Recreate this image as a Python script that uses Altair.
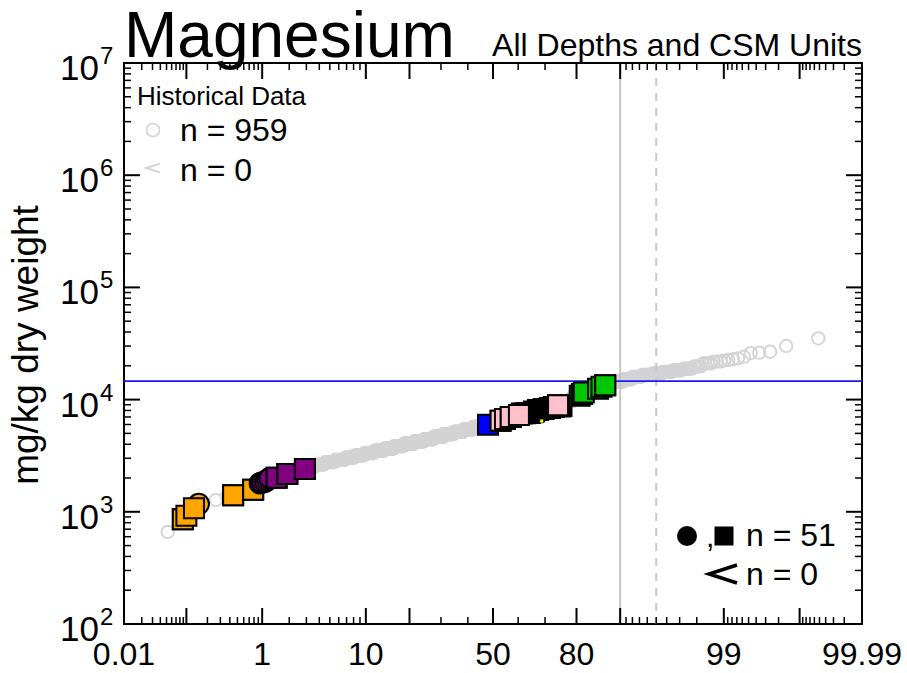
import altair as alt
import pandas as pd
from statistics import NormalDist

FONT = "Liberation Sans"
W, H = 738, 561
nd = NormalDist()


def zscore(pct):
    """Normal-probability position of a percentile."""
    return nd.inv_cdf(pct / 100.0)


# ---- Historical record: sorted distinct values (mg/kg) and how many samples share each
hist_val = [661, 1150, 1274, 1377, 1455, 1524, 1585, 1641, 1694, 1738,
            1791, 1841, 1889, 1936, 1982, 2023, 2065, 2104, 2143, 2182,
            2218, 2254,
            2358, 2512, 2636, 2767, 2897, 3041, 3184, 3342, 3508, 3673,
            3855, 4046, 4236, 4446, 4677, 4920, 5164, 5433, 5715, 6026,
            6353, 6699, 7079, 7464, 7889, 8318, 8851, 9683, 10641, 11561,
            12560, 13552, 14355, 15171, 15959, 16596, 17100, 17660, 18239, 18836,
            19770, 20989, 21827,
            22280, 22550, 22850, 23330, 24100, 26020, 26180, 26730, 30060, 35180]
hist_count = [1, 1, 1, 1, 1, 1, 1, 1, 1, 1,
              1, 1, 1, 1, 1, 1, 1, 1, 1, 1,
              1, 1,
              6, 7, 8, 10, 12, 13, 15, 18, 20, 22,
              24, 27, 29, 31, 32, 35, 36, 37, 38, 38,
              38, 38, 37, 36, 35, 32, 31, 29, 27, 24,
              22, 20, 18, 15, 13, 12, 10, 8, 7, 6,
              4, 4, 3,
              1, 1, 1, 1, 1, 1, 1, 1, 1, 1]
hist_censored = 0

# ---- Current samples (percentile position, value, unit colour, symbol)
col_pct = [0.0886, 0.0886, 0.100, 0.129, 0.441, 0.441, 0.782, 0.782, 0.151,
           0.94, 1.0, 1.075, 1.15, 1.226, 1.226, 1.46, 1.46, 1.91, 1.91, 2.9, 2.9,
           48.0,
           61.4, 62.8, 64.5, 64.5, 66.0, 67.5, 67.5, 69.5, 71.7, 71.7, 73.0, 75.0, 75.5,
           53.05, 53.05, 54.8, 57.1, 57.1, 60.3, 74.4, 74.4,
           80.9, 81.5, 82.0, 85.5, 86.3, 87.1, 87.1,
           68.8]
col_val = [857, 857, 923, 1074, 1403, 1403, 1574, 1574, 1174,
           1795, 1820, 1854, 1920, 1989, 1989, 2010, 2010, 2173, 2173, 2407, 2407,
           5976,
           7516, 7560, 7600, 7600, 7850, 8077, 8077, 8250, 8420, 8420, 8600, 8700, 8770,
           6471, 6471, 6714, 6997, 6997, 7293, 8900, 8900,
           10810, 11200, 11560, 12510, 13000, 13410, 13410,
           6442]
col_grp = (["orange"] * 9 + ["purple"] * 12 + ["blue"] + ["black"] * 13
           + ["pink"] * 8 + ["green"] * 7 + ["yellow"])
col_shape = (["square"] * 8 + ["circle"]
             + ["circle"] * 6 + ["square"] * 6
             + ["square"] + ["square"] * 13 + ["square"] * 8 + ["square"] * 7
             + ["square"])
col_censored = 0

grp_order = ["orange", "purple", "blue", "black", "pink", "green", "yellow"]
grp_color = ["#FFA500", "#800080", "#0000FF", "#000000", "#FFC0CB", "#00C800", "#FFFF00"]

# ---- Reference levels
guide_val = [14600]
pct_solid = [90]
pct_dashed = [95]

# ---- Axis ticks and labels
x_major_pct = [0.1, 1, 10, 20, 50, 80, 90, 99, 99.9]
x_minor_pct = [0.02, 0.03, 0.04, 0.05, 0.06, 0.07, 0.08, 0.09,
               0.2, 0.3, 0.4, 0.5, 0.6, 0.7, 0.8, 0.9,
               2, 3, 4, 5, 6, 7, 8, 9,
               30, 40, 60, 70,
               91, 92, 93, 94, 95, 96, 97, 98,
               99.1, 99.2, 99.3, 99.4, 99.5, 99.6, 99.7, 99.8,
               99.91, 99.92, 99.93, 99.94, 99.95, 99.96, 99.97, 99.98]
x_label_pct = [0.01, 1, 10, 50, 80, 99, 99.99]
x_label_txt = ["0.01", "1", "10", "50", "80", "99", "99.99"]

y_major = [1e2, 1e3, 1e4, 1e5, 1e6, 1e7]
y_exp = ["2", "3", "4", "5", "6", "7"]
y_minor = [m * 10 ** k for k in range(2, 7) for m in (2, 3, 4, 5, 6, 7, 8, 9)]

# ---- Frames
N = sum(hist_count)
rows, rank = [], 0
for v, c in zip(hist_val, hist_count):
    for _ in range(c):
        rank += 1
        rows.append({"z": nd.inv_cdf((rank - 0.5) / N), "val": v})
hist_df = pd.DataFrame(rows)

col_df = pd.DataFrame({"z": [zscore(p) for p in col_pct], "val": col_val,
                       "grp": col_grp, "shape": col_shape})
col_df["ord"] = [grp_order.index(g) * 1000 + (0 if s == "circle" else 500) + p
                 for g, s, p in zip(col_grp, col_shape, col_pct)]

xs = alt.Scale(domain=[zscore(0.01), zscore(99.99)], nice=False, zero=False)
ys = alt.Scale(type="log", domain=[1e2, 1e7], nice=False)
X = alt.X("z:Q", scale=xs, axis=None)
Y = alt.Y("val:Q", scale=ys, axis=None)

RING = "#d3d3d3"
layers = []

# historical ring symbols
layers.append(alt.Chart(hist_df).mark_point(
    shape="circle", filled=False, size=155, strokeWidth=1.8,
    color=RING, opacity=1).encode(x=X, y=Y))

# percentile reference lines
layers.append(alt.Chart(pd.DataFrame({"z": [zscore(p) for p in pct_solid]})).mark_rule(
    color="#c4c4c4", strokeWidth=2).encode(x=X, y=alt.value(0), y2=alt.value(H)))
layers.append(alt.Chart(pd.DataFrame({"z": [zscore(p) for p in pct_dashed]})).mark_rule(
    color="#c8c8c8", strokeWidth=2, strokeDash=[8, 7]).encode(
    x=X, y=alt.value(0), y2=alt.value(H)))

# guideline level
layers.append(alt.Chart(pd.DataFrame({"val": guide_val})).mark_rule(
    color="#1a1aee", strokeWidth=1.6).encode(y=Y, x=alt.value(0), x2=alt.value(W)))

# current samples
main = col_df[col_df.grp != "yellow"]
layers.append(alt.Chart(main).mark_point(
    filled=True, stroke="black", strokeWidth=2, opacity=1).encode(
    x=X, y=Y,
    fill=alt.Fill("grp:N", scale=alt.Scale(domain=grp_order, range=grp_color), legend=None),
    shape=alt.Shape("shape:N", scale=alt.Scale(domain=["circle", "square"],
                                               range=["circle", "square"]), legend=None),
    size=alt.Size("shape:N", scale=alt.Scale(domain=["circle", "square"],
                                             range=[420, 400]), legend=None),
    order=alt.Order("ord:Q")))
layers.append(alt.Chart(col_df[col_df.grp == "yellow"]).mark_point(
    shape="square", filled=True, fill="#FFFF00", stroke="black", strokeWidth=0.6,
    size=14, opacity=1).encode(x=X, y=Y))


# inward ticks on all four sides
def x_ticks(pcts, length, width):
    base = alt.Chart(pd.DataFrame({"z": [zscore(p) for p in pcts]}))
    return [base.mark_rule(color="black", strokeWidth=width).encode(
                x=X, y=alt.value(H), y2=alt.value(H - length)),
            base.mark_rule(color="black", strokeWidth=width).encode(
                x=X, y=alt.value(0), y2=alt.value(length))]


def y_ticks(vals, length, width):
    base = alt.Chart(pd.DataFrame({"val": vals}))
    return [base.mark_rule(color="black", strokeWidth=width).encode(
                y=Y, x=alt.value(0), x2=alt.value(length)),
            base.mark_rule(color="black", strokeWidth=width).encode(
                y=Y, x=alt.value(W), x2=alt.value(W - length))]


layers += x_ticks(x_major_pct, 16, 2) + x_ticks(x_minor_pct, 7, 1.5)
layers += y_ticks(y_major, 16, 2) + y_ticks(y_minor, 7, 1.5)

# tick labels
layers.append(alt.Chart(pd.DataFrame({"z": [zscore(p) for p in x_label_pct],
                                      "t": x_label_txt})).mark_text(
    font=FONT, fontSize=32, align="center", baseline="alphabetic", color="black").encode(
    x=X, y=alt.value(H + 41), text="t:N"))
ylab = pd.DataFrame({"val": y_major, "e": y_exp, "b": ["10"] * len(y_major)})
layers.append(alt.Chart(ylab).mark_text(
    font=FONT, fontSize=35, align="right", baseline="alphabetic", dy=17,
    color="black").encode(y=Y, x=alt.value(-25), text="b:N"))
layers.append(alt.Chart(ylab).mark_text(
    font=FONT, fontSize=24, align="left", baseline="alphabetic", dy=1,
    color="black").encode(y=Y, x=alt.value(-24), text="e:N"))


def label(txt, x, y, size, align="left", angle=None, color="black"):
    kw = dict(font=FONT, fontSize=size, align=align, baseline="alphabetic", color=color)
    if angle is not None:
        kw["angle"] = angle
    return alt.Chart(pd.DataFrame({"t": [txt]})).mark_text(**kw).encode(
        text="t:N", x=alt.value(x), y=alt.value(y))


def glyph(x, y, shape, size, filled, color, sw=1.5):
    return alt.Chart(pd.DataFrame({"k": [0]})).mark_point(
        shape=shape, size=size, filled=filled, color=color, strokeWidth=sw,
        opacity=1).encode(x=alt.value(x), y=alt.value(y))


LT = "M 1 -0.64 L -1 0 L 1 0.64"

layers += [
    label("Magnesium", 0, -6, 64),
    label("All Depths and CSM Units", 738, -7, 32, align="right"),
    label("mg/kg dry weight", -86, 282, 37, align="center", angle=270),
    # historical legend
    label("Historical Data", 13, 42, 26),
    glyph(29, 67, "circle", 170, False, RING),
    label(f"n = {N}", 56, 78, 32),
    glyph(29, 105, LT, 190, False, RING, sw=2),
    label(f"n = {hist_censored}", 56, 118, 32),
    # current legend
    glyph(563, 473, "circle", 400, True, "black"),
    label(",", 582, 484, 30),
    glyph(600, 473, "square", 361, True, "black"),
    label(f"n = {len(col_pct)}", 622, 483, 32),
    glyph(599, 511, LT, 784, False, "black", sw=3.5),
    label(f"n = {col_censored}", 622, 522, 32),
]

chart = alt.layer(*layers).properties(
    width=W, height=H,
    autosize=alt.AutoSizeParams(type="none"),
    padding={"left": 124, "top": 63, "right": 45, "bottom": 49},
    background="white",
).configure_view(stroke="black", strokeWidth=2)

chart.save("out.html", embed_options={"renderer": "svg", "actions": False})
